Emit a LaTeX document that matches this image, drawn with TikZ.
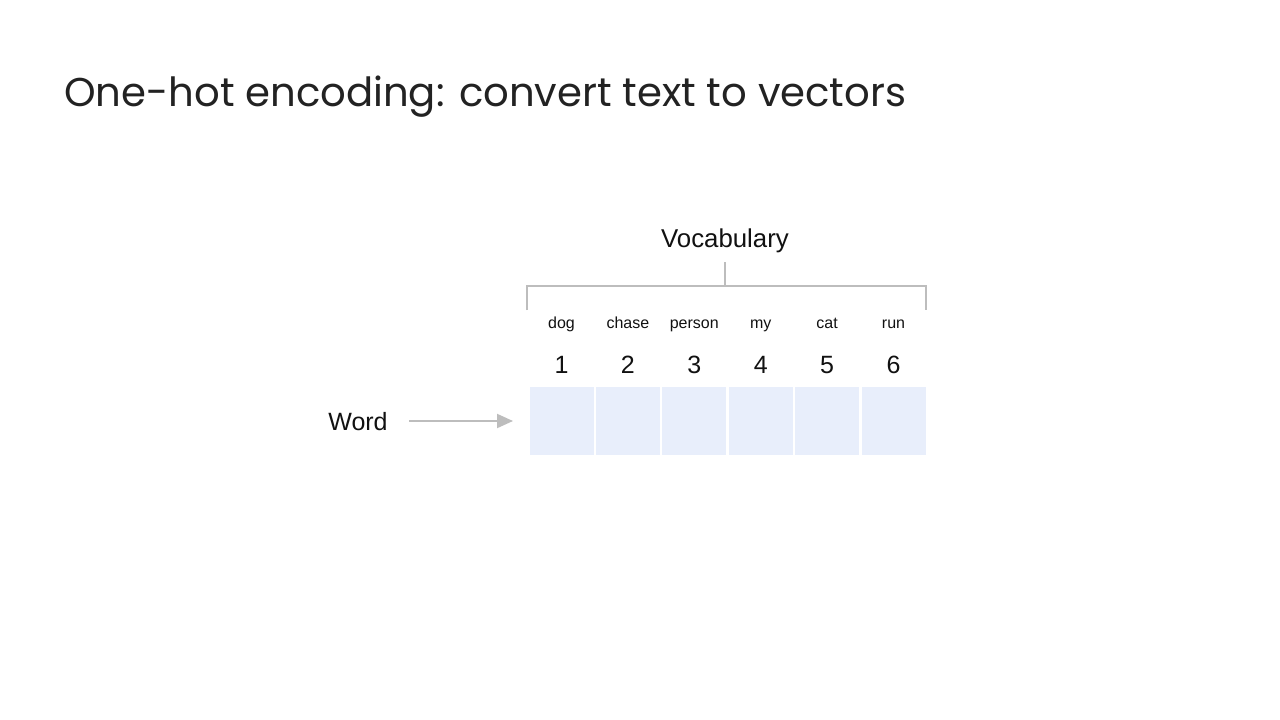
\documentclass[tikz,border=0pt]{standalone}
\usepackage{fontspec}
\setmainfont{Liberation Sans}
\newfontfamily\titlefont{Poppins}
\usetikzlibrary{arrows.meta}
\definecolor{titlegray}{HTML}{222222}
\definecolor{linegray}{HTML}{BDBDBD}
\definecolor{cellblue}{HTML}{E8EEFB}
\definecolor{textblack}{HTML}{111111}
\tikzset{
  cell/.style={fill=cellblue, draw=none, minimum width=64pt, minimum height=68pt, inner sep=0pt},
  vocabword/.style={font=\fontsize{16}{18}\selectfont, text=textblack, anchor=base},
  idxnum/.style={font=\fontsize{25}{28}\selectfont, text=textblack, anchor=base},
  bracket/.style={draw=linegray, line width=1.3pt},
  grayarrow/.style={draw=linegray, line width=2pt, -{Triangle[length=16pt,width=14pt]}}
}
\begin{document}
\begin{tikzpicture}[x=1pt,y=-1pt]
\useasboundingbox[fill=white] (0,0) rectangle (1280,720);
\node[anchor=base west, inner sep=0pt, text=titlegray, font=\titlefont\fontsize{40.2}{46}\selectfont] (title) at (64,106) {One-hot encoding: convert text to vectors};
\node[anchor=base, inner sep=0pt, text=textblack, font=\fontsize{25.8}{30}\selectfont] (vocab) at (725,247) {Vocabulary};
\coordinate (btop) at (725,262);
\coordinate (bmid) at (725,286);
\coordinate (bl) at (527,286);
\coordinate (br) at (926,286);
\coordinate (bld) at (527,310);
\coordinate (brd) at (926,310);
\draw[bracket] (btop) -- (bmid);
\draw[bracket] (bld) -- (bl) -- (br) -- (brd);
\foreach \w [count=\i] in {dog,chase,person,my,cat,run} {
  \pgfmathsetmacro{\cx}{561.5+66.4*(\i-1)}
  \node[vocabword, inner sep=0pt] (w\i) at (\cx,328) {\w};
  \node[idxnum, inner sep=0pt] (n\i) at (\cx,373) {\i};
  \node[cell] (c\i) at (\cx,421) {};
}
\node[anchor=base, inner sep=0pt, text=textblack, font=\fontsize{25}{28}\selectfont] (word) at (358,430) {Word};
\coordinate (arrstart) at (409,421);
\coordinate (arrend) at (513,421);
\draw[grayarrow] (arrstart) -- (arrend);
\end{tikzpicture}
\end{document}
